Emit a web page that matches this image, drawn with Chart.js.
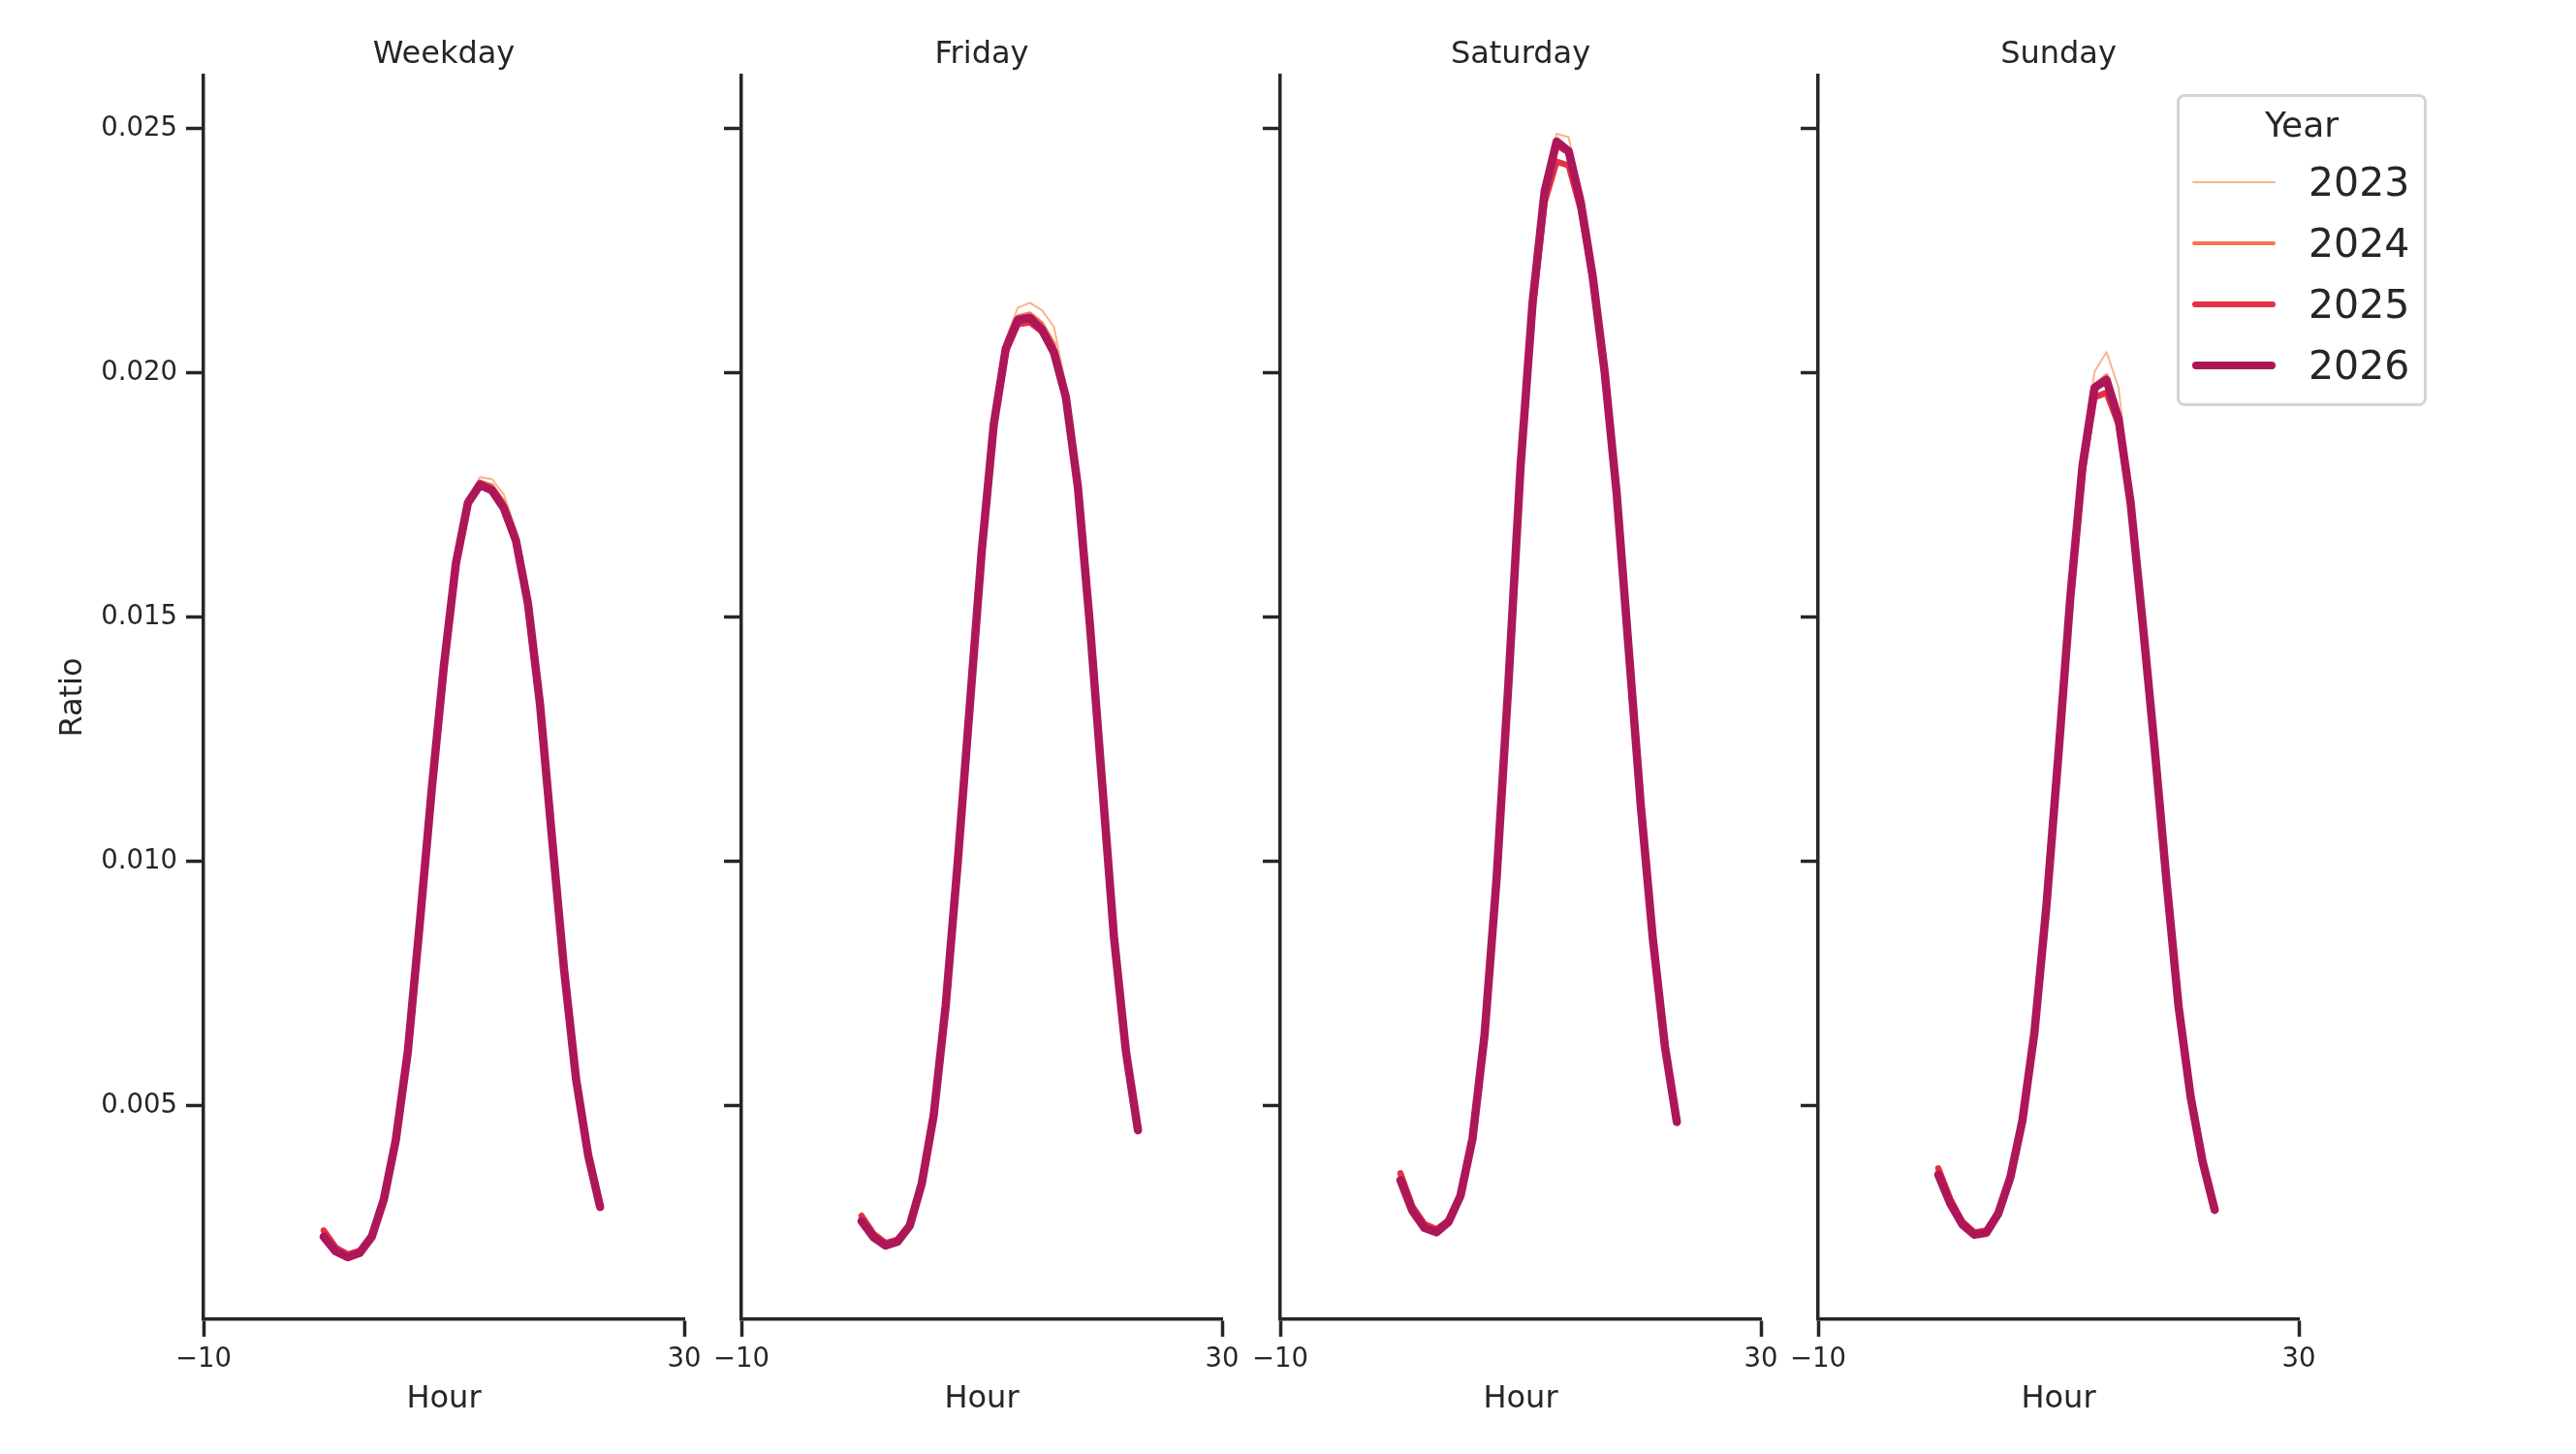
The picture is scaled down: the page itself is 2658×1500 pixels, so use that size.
<!DOCTYPE html>
<html>
<head>
<meta charset="utf-8">
<script src="https://cdn.jsdelivr.net/npm/chart.js@4.4.1/dist/chart.umd.min.js"></script>
<style>
  html, body { margin: 0; padding: 0; background: #fff; }
  body { width: 2658px; height: 1500px; position: relative; overflow: hidden;
         font-family: 'DejaVu Sans', sans-serif; color: #262626; }
  .panel { position: absolute; top: 0; width: 736px; height: 1500px; }
  #legend { position: absolute; left: 2246px; top: 97px; width: 258px; height: 322px;
            box-sizing: border-box; border: 3px solid #d4d4d4; border-radius: 8px;
            background: rgba(255,255,255,0.8); }
  #legend .ttl { position: absolute; left: 0; right: 0; top: 8px; text-align: center;
                 font-size: 36px; line-height: 42px; }
  #legend .sw { position: absolute; left: 13px; width: 86px; border-radius: 6px; }
  #legend .lb { position: absolute; left: 133px; font-size: 41px; line-height: 48px; }
</style>
</head>
<body>
<div class="panel" id="p0"><canvas id="c0" width="736" height="1500"></canvas></div>
<div class="panel" id="p1"><canvas id="c1" width="736" height="1500"></canvas></div>
<div class="panel" id="p2"><canvas id="c2" width="736" height="1500"></canvas></div>
<div class="panel" id="p3"><canvas id="c3" width="736" height="1500"></canvas></div>
<div id="legend"></div>
<script>
// data
const hours = [0, 1, 2, 3, 4, 5, 6, 7, 8, 9, 10, 11, 12, 13, 14, 15, 16, 17, 18, 19, 20, 21, 22, 23];
const years = ['2023', '2024', '2025', '2026'];
const panelTitles = ['Weekday', 'Friday', 'Saturday', 'Sunday'];
const xTicks = [-10, 30];
const yTicks = [0.005, 0.010, 0.015, 0.020, 0.025];

const weekday2023 = [0.00236, 0.00204, 0.00191, 0.00200, 0.00232, 0.00307, 0.00428, 0.00608, 0.00872, 0.01148, 0.01401, 0.01615, 0.01745, 0.01787, 0.01783, 0.01751, 0.01678, 0.01540, 0.01328, 0.01052, 0.00780, 0.00554, 0.00399, 0.00293];
const weekday2024 = [0.00238, 0.00206, 0.00193, 0.00201, 0.00233, 0.00308, 0.00430, 0.00610, 0.00874, 0.01150, 0.01401, 0.01612, 0.01738, 0.01778, 0.01770, 0.01736, 0.01670, 0.01535, 0.01325, 0.01050, 0.00780, 0.00555, 0.00400, 0.00294];
const weekday2025 = [0.00245, 0.00210, 0.00196, 0.00203, 0.00235, 0.00309, 0.00430, 0.00611, 0.00874, 0.01150, 0.01400, 0.01612, 0.01738, 0.01775, 0.01763, 0.01726, 0.01660, 0.01530, 0.01322, 0.01048, 0.00779, 0.00555, 0.00400, 0.00294];
const weekday2026 = [0.00232, 0.00202, 0.00190, 0.00199, 0.00232, 0.00308, 0.00430, 0.00611, 0.00875, 0.01150, 0.01400, 0.01610, 0.01734, 0.01771, 0.01760, 0.01723, 0.01657, 0.01528, 0.01322, 0.01048, 0.00779, 0.00555, 0.00400, 0.00293];

const friday2023 = [0.00266, 0.00232, 0.00215, 0.00223, 0.00254, 0.00340, 0.00479, 0.00703, 0.00996, 0.01316, 0.01638, 0.01903, 0.02070, 0.02134, 0.02144, 0.02129, 0.02095, 0.01975, 0.01780, 0.01490, 0.01168, 0.00847, 0.00612, 0.00451];
const friday2024 = [0.00268, 0.00234, 0.00216, 0.00224, 0.00255, 0.00341, 0.00480, 0.00704, 0.00997, 0.01316, 0.01636, 0.01897, 0.02056, 0.02116, 0.02122, 0.02102, 0.02060, 0.01965, 0.01775, 0.01488, 0.01167, 0.00846, 0.00611, 0.00450];
const friday2025 = [0.00275, 0.00238, 0.00219, 0.00226, 0.00257, 0.00342, 0.00481, 0.00705, 0.00997, 0.01315, 0.01632, 0.01890, 0.02044, 0.02100, 0.02104, 0.02085, 0.02040, 0.01950, 0.01767, 0.01485, 0.01166, 0.00846, 0.00611, 0.00451];
const friday2026 = [0.00264, 0.00231, 0.00214, 0.00222, 0.00254, 0.00340, 0.00480, 0.00705, 0.00998, 0.01317, 0.01636, 0.01895, 0.02050, 0.02109, 0.02113, 0.02089, 0.02043, 0.01951, 0.01767, 0.01485, 0.01166, 0.00846, 0.00611, 0.00450];

const saturday2023 = [0.00350, 0.00287, 0.00252, 0.00242, 0.00263, 0.00317, 0.00432, 0.00644, 0.00963, 0.01370, 0.01812, 0.02150, 0.02385, 0.02490, 0.02483, 0.02370, 0.02208, 0.02006, 0.01755, 0.01435, 0.01116, 0.00844, 0.00624, 0.00468];
const saturday2024 = [0.00353, 0.00289, 0.00253, 0.00243, 0.00264, 0.00318, 0.00433, 0.00645, 0.00963, 0.01369, 0.01808, 0.02143, 0.02368, 0.02462, 0.02450, 0.02350, 0.02200, 0.02003, 0.01754, 0.01434, 0.01116, 0.00843, 0.00623, 0.00467];
const saturday2025 = [0.00362, 0.00294, 0.00258, 0.00247, 0.00266, 0.00319, 0.00433, 0.00644, 0.00962, 0.01366, 0.01800, 0.02130, 0.02350, 0.02433, 0.02425, 0.02335, 0.02190, 0.01998, 0.01750, 0.01432, 0.01115, 0.00843, 0.00623, 0.00467];
const saturday2026 = [0.00348, 0.00285, 0.00250, 0.00241, 0.00262, 0.00316, 0.00433, 0.00645, 0.00964, 0.01370, 0.01810, 0.02145, 0.02372, 0.02474, 0.02454, 0.02350, 0.02198, 0.02001, 0.01752, 0.01433, 0.01115, 0.00843, 0.00623, 0.00467];

const sunday2023 = [0.00361, 0.00302, 0.00258, 0.00237, 0.00241, 0.00281, 0.00353, 0.00469, 0.00649, 0.00909, 0.01220, 0.01548, 0.01820, 0.02003, 0.02043, 0.01970, 0.01760, 0.01500, 0.01237, 0.00959, 0.00703, 0.00519, 0.00386, 0.00288];
const sunday2024 = [0.00364, 0.00304, 0.00259, 0.00238, 0.00242, 0.00281, 0.00354, 0.00470, 0.00650, 0.00909, 0.01219, 0.01544, 0.01810, 0.01975, 0.01995, 0.01915, 0.01740, 0.01492, 0.01234, 0.00958, 0.00702, 0.00518, 0.00385, 0.00287];
const sunday2025 = [0.00372, 0.00309, 0.00263, 0.00241, 0.00245, 0.00283, 0.00354, 0.00469, 0.00648, 0.00907, 0.01216, 0.01538, 0.01795, 0.01950, 0.01960, 0.01895, 0.01730, 0.01488, 0.01232, 0.00957, 0.00702, 0.00518, 0.00385, 0.00287];
const sunday2026 = [0.00359, 0.00300, 0.00257, 0.00236, 0.00240, 0.00280, 0.00354, 0.00470, 0.00650, 0.00910, 0.01220, 0.01545, 0.01810, 0.01970, 0.01986, 0.01906, 0.01735, 0.01490, 0.01233, 0.00957, 0.00702, 0.00518, 0.00385, 0.00287];

const panelSeries = [
    [weekday2023, weekday2024, weekday2025, weekday2026],
    [friday2023, friday2024, friday2025, friday2026],
    [saturday2023, saturday2024, saturday2025, saturday2026],
    [sunday2023, sunday2024, sunday2025, sunday2026],
];

// styles
const yearColors = ['#f6b48f', '#f37651', '#e13342', '#ad1759'];
const yearWidths = [2, 4.2, 6.4, 8.6];
const ink = '#262626';
const plotLeft = [210, 765, 1321, 1876];
const axisW = 200;

Chart.defaults.font.family = "'DejaVu Sans', sans-serif";
Chart.defaults.color = ink;

function fmtX(v) {
    return v < 0 ? '\u2212' + Math.abs(v) : String(v);
}

panelTitles.forEach((title, i) => {
    const wrap = document.getElementById('p' + i);
    wrap.style.left = (plotLeft[i] - axisW) + 'px';

    new Chart(document.getElementById('c' + i), {
        type: 'line',
        data: {
            datasets: years.map((yr, k) => ({
                label: yr,
                data: hours.map((h, j) => ({ x: h, y: panelSeries[i][k][j] })),
                borderColor: yearColors[k],
                borderWidth: yearWidths[k],
                borderCapStyle: 'round',
                borderJoinStyle: 'round',
                pointRadius: 0,
                tension: 0,
                fill: false,
                // later years on top, like the original
                order: years.length - k,
            }))
        },
        options: {
            responsive: false,
            animation: false,
            devicePixelRatio: 1,
            layout: { padding: { top: 0, left: 0, right: 40, bottom: 0 } },
            plugins: {
                legend: { display: false },
                tooltip: { enabled: false },
                title: {
                    display: true,
                    text: title,
                    fullSize: false,
                    font: { size: 32, weight: 'normal' },
                    color: ink,
                    padding: { top: 37, bottom: 2.6 }
                }
            },
            scales: {
                x: {
                    type: 'linear',
                    min: -10,
                    max: 30,
                    afterBuildTicks: s => { s.ticks = xTicks.map(v => ({ value: v })); },
                    afterFit: s => { s.height = 139; },
                    ticks: {
                        callback: v => fmtX(v),
                        font: { size: 27.5 },
                        color: ink,
                        padding: 7,
                        maxRotation: 0,
                        autoSkip: false
                    },
                    grid: {
                        drawOnChartArea: false,
                        drawTicks: true,
                        tickLength: 18,
                        tickWidth: 3.5,
                        tickColor: ink
                    },
                    border: { display: true, color: ink, width: 3.5 },
                    title: {
                        display: true,
                        text: 'Hour',
                        font: { size: 32 },
                        color: ink,
                        padding: { top: 0, bottom: 37 }
                    }
                },
                y: {
                    type: 'linear',
                    min: 0.00063,
                    max: 0.02609,
                    afterBuildTicks: s => { s.ticks = yTicks.map(v => ({ value: v })); },
                    afterFit: s => { s.width = axisW; },
                    ticks: {
                        callback: v => (i === 0 ? v.toFixed(3) : ''),
                        font: { size: 27.5 },
                        color: ink,
                        padding: 9,
                        autoSkip: false
                    },
                    grid: {
                        drawOnChartArea: false,
                        drawTicks: true,
                        tickLength: 18,
                        tickWidth: 3.5,
                        tickColor: ink
                    },
                    border: { display: true, color: ink, width: 3.5 },
                    title: {
                        display: i === 0,
                        text: 'Ratio',
                        font: { size: 32 },
                        color: ink,
                        padding: { top: 46, bottom: 0 }
                    }
                }
            }
        }
    });
});

// legend
const legend = document.getElementById('legend');
const ttl = document.createElement('div');
ttl.className = 'ttl';
ttl.textContent = 'Year';
legend.appendChild(ttl);
years.forEach((yr, k) => {
    const cy = 88 + 63 * k;
    const sw = document.createElement('div');
    sw.className = 'sw';
    sw.style.height = yearWidths[k] + 'px';
    sw.style.top = (cy - yearWidths[k] / 2) + 'px';
    sw.style.background = yearColors[k];
    legend.appendChild(sw);
    const lb = document.createElement('div');
    lb.className = 'lb';
    lb.style.top = (cy - 24) + 'px';
    lb.textContent = yr;
    legend.appendChild(lb);
});
</script>
</body>
</html>
